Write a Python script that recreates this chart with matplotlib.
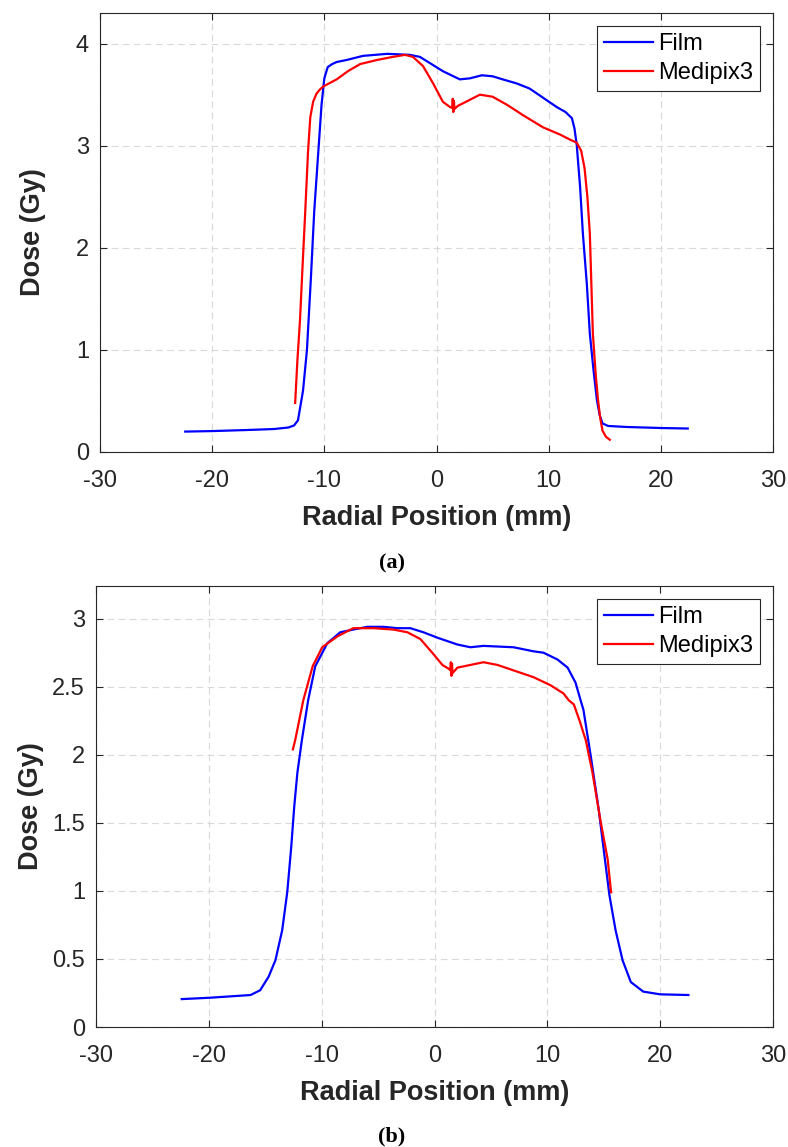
import numpy as np
import matplotlib
matplotlib.use('Agg')
import matplotlib.pyplot as plt

# ---- panel (a) ----
film_a_x = [-22.4, -20.0, -17.0, -14.5, -13.2, -12.7, -12.35, -11.9, -11.55, -11.2, -10.9,
            -10.5, -10.25, -10.0, -9.7, -9.3, -8.9, -8.0, -6.56, -4.4, -2.37, -1.48, -0.6, 0.57,
            2.08, 2.98, 4.05, 5.0, 5.9, 7.15, 8.3, 9.5, 10.7, 11.5, 12.07, 12.3, 12.5, 12.8,
            13.05, 13.4, 13.67, 14.0, 14.3, 14.55, 14.8, 15.3, 16.97, 20.0, 22.4]
film_a_y = [0.20, 0.205, 0.215, 0.225, 0.24, 0.26, 0.31, 0.6, 1.0, 1.7, 2.36,
            3.0, 3.4, 3.66, 3.77, 3.80, 3.82, 3.84, 3.88, 3.90, 3.89, 3.87, 3.81, 3.73,
            3.65, 3.66, 3.69, 3.68, 3.65, 3.61, 3.56, 3.47, 3.38, 3.33, 3.27, 3.17, 3.01, 2.6,
            2.14, 1.65, 1.16, 0.8, 0.51, 0.36, 0.28, 0.255, 0.245, 0.235, 0.23]

medi_a_x = [-12.6, -12.4, -12.17, -11.95, -11.7, -11.45, -11.25, -11.0, -10.7, -10.4, -10.1,
            -8.9, -7.9, -6.8, -5.3, -3.9, -2.8, -2.1, -1.2, -0.3, 0.57, 1.19, 1.4, 1.45, 1.5,
            1.55, 1.6, 1.9, 2.98, 3.87, 5.0, 6.3, 7.7, 9.5, 11.0, 11.9, 12.5, 12.9, 13.2,
            13.45, 13.67, 13.94, 14.2, 14.4, 14.6, 14.8, 15.1, 15.45]
medi_a_y = [0.48, 0.9, 1.29, 1.8, 2.36, 2.95, 3.28, 3.43, 3.51, 3.55, 3.58,
            3.65, 3.73, 3.80, 3.84, 3.87, 3.89, 3.87, 3.78, 3.61, 3.43, 3.38, 3.37, 3.46, 3.33,
            3.44, 3.36, 3.39, 3.45, 3.50, 3.48, 3.40, 3.30, 3.18, 3.11, 3.06, 3.03, 2.95, 2.78,
            2.5, 2.14, 1.16, 0.75, 0.51, 0.33, 0.21, 0.15, 0.12]

# ---- panel (b) ----
film_b_x = [-22.4, -19.9, -16.3, -15.45, -14.7, -14.1, -13.5, -13.05, -12.7, -12.43, -12.15,
            -11.75, -11.2, -10.57, -9.5, -8.35, -7.2, -5.95, -4.5, -3.3, -2.14, -0.98, 0.26,
            2.03, 3.18, 4.34, 7.0, 8.78, 9.66, 10.9, 11.8, 12.5, 12.95, 13.2, 13.83, 14.55,
            15.0, 15.5, 16.05, 16.67, 17.4, 18.5, 20.0, 22.5]
film_b_y = [0.205, 0.215, 0.235, 0.27, 0.37, 0.49, 0.71, 0.99, 1.32, 1.62, 1.87,
            2.11, 2.40, 2.65, 2.82, 2.90, 2.92, 2.94, 2.94, 2.93, 2.93, 2.90, 2.86,
            2.81, 2.79, 2.80, 2.79, 2.76, 2.75, 2.70, 2.64, 2.53, 2.40, 2.33, 2.0, 1.60,
            1.30, 0.97, 0.71, 0.49, 0.33, 0.26, 0.24, 0.235]

medi_b_x = [-12.55, -12.34, -11.63, -10.8, -9.95, -8.6, -7.2, -5.4, -3.65, -2.4, -1.25,
            -0.2, 0.7, 1.3, 1.4, 1.45, 1.5, 1.55, 1.6, 2.03, 3.18, 4.34, 5.58, 7.36, 8.78,
            10.3, 11.44, 11.9, 12.35, 12.9, 13.2, 13.4, 14.0, 14.7, 15.35, 15.65]
medi_b_y = [2.04, 2.11, 2.40, 2.65, 2.79, 2.87, 2.93, 2.93, 2.92, 2.90, 2.85,
            2.75, 2.66, 2.63, 2.62, 2.68, 2.58, 2.67, 2.60, 2.64, 2.66, 2.68, 2.66, 2.61, 2.57,
            2.51, 2.45, 2.40, 2.37, 2.24, 2.16, 2.11, 1.87, 1.52, 1.23, 0.99]

xticks = [-30, -20, -10, 0, 10, 20, 30]
yticks_a = [0, 1, 2, 3, 4]
yticks_b = [0, 0.5, 1, 1.5, 2, 2.5, 3]
ytick_labels_b = ['0', '0.5', '1', '1.5', '2', '2.5', '3']

plt.rcParams['font.family'] = ['Liberation Sans', 'DejaVu Sans']
dark = '#262626'

fig = plt.figure(figsize=(7.88, 11.47), dpi=100)
W, H = 788.0, 1147.0


def style(ax, ylim, yticks, ylabels):
    ax.set_xlim(-30, 30)
    ax.set_ylim(*ylim)
    ax.set_xticks(xticks)
    ax.set_xticklabels([str(t) for t in xticks])
    ax.set_yticks(yticks)
    ax.set_yticklabels(ylabels)
    ax.grid(True, color='#d9d9d9', linestyle=(0, (6, 4)), linewidth=0.8)
    ax.set_axisbelow(True)
    for s in ax.spines.values():
        s.set_color(dark)
        s.set_linewidth(0.8)
    ax.tick_params(direction='in', top=True, right=True, length=5, width=0.8,
                   colors=dark, labelsize=17)
    ax.tick_params(axis='x', pad=13)
    ax.tick_params(axis='y', pad=8)
    ax.set_xlabel('Radial Position (mm)', fontsize=19.5, fontweight='bold', color=dark, labelpad=9)
    ax.set_ylabel('Dose (Gy)', fontsize=19.5, fontweight='bold', color=dark)
    leg = ax.legend(loc='upper right', fontsize=17, fancybox=False, framealpha=1,
                    edgecolor=dark, handlelength=2.1, handletextpad=0.2,
                    borderpad=0.3, labelspacing=0.3, borderaxespad=0.55)
    leg.get_frame().set_linewidth(0.8)


ax1 = fig.add_axes([100 / W, 1 - 452 / H, 673 / W, 439 / H])
ax1.plot(film_a_x, film_a_y, color='#0000ff', lw=1.6, label='Film')
ax1.plot(medi_a_x, medi_a_y, color='#ff0000', lw=1.6, label='Medipix3')
style(ax1, (0, 4.3), yticks_a, [str(t) for t in yticks_a])
ax1.yaxis.set_label_coords(-0.08, 0.5)

ax2 = fig.add_axes([96 / W, 1 - 1027 / H, 677 / W, 441 / H])
ax2.plot(film_b_x, film_b_y, color='#0000ff', lw=1.6, label='Film')
ax2.plot(medi_b_x, medi_b_y, color='#ff0000', lw=1.6, label='Medipix3')
style(ax2, (0, 3.24), yticks_b, ytick_labels_b)
ax2.yaxis.set_label_coords(-0.077, 0.5)

fig.text(392 / W, 1 - 563 / H, '(a)', ha='center', va='center', fontsize=16,
         fontweight='bold', family='Liberation Serif')
fig.text(392 / W, 1 - 1136 / H, '(b)', ha='center', va='center', fontsize=16,
         fontweight='bold', family='Liberation Serif')

fig.savefig('out.png', dpi=100)
